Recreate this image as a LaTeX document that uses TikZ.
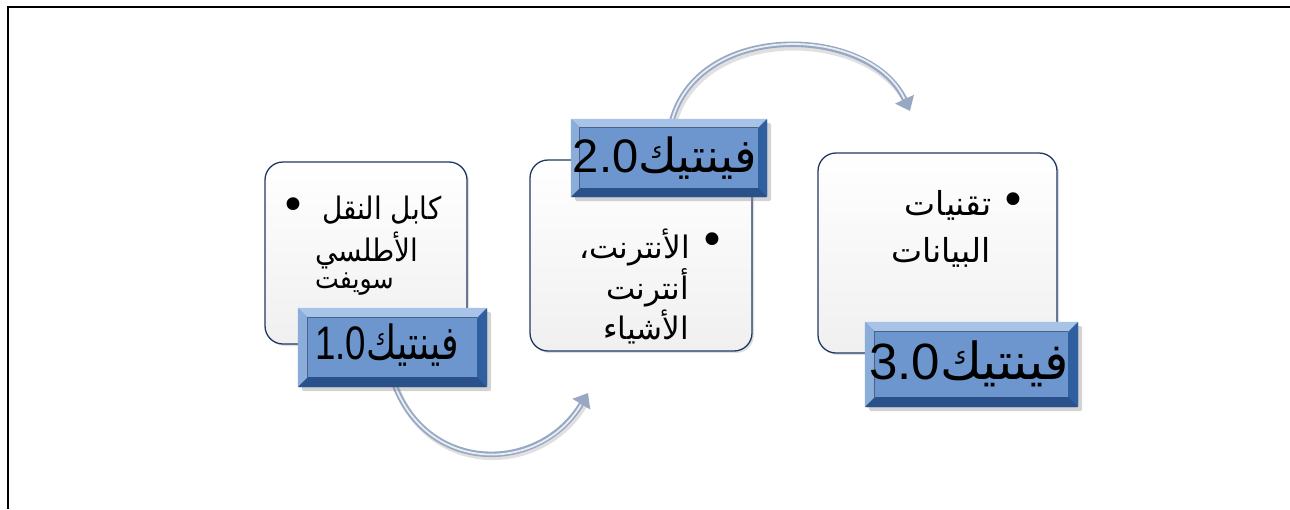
\documentclass[tikz,border=0pt]{standalone}
\usepackage{fontspec}
\usetikzlibrary{arrows.meta,shadows}
\TeXXeTstate=1
\newfontfamily\arabicfont[Script=Arabic]{DejaVu Sans}
\newfontfamily\latinfont{Liberation Sans}
\definecolor{boxline}{HTML}{1F3864}
\definecolor{facecol}{HTML}{6C96CD}
\definecolor{bvtop}{HTML}{A7C4E8}
\definecolor{bvleft}{HTML}{8AAED9}
\definecolor{bvright}{HTML}{2F5F9E}
\definecolor{bvbot}{HTML}{2A5189}
\definecolor{tubeout}{HTML}{98A8C2}
\definecolor{tubein}{HTML}{E8EEF6}
\newcommand\mybevel[2]{%
  \fill[bvtop] (#1.north west) -- (#1.north east) -- ([shift={(-#2,-#2)}]#1.north east) -- ([shift={(#2,-#2)}]#1.north west) -- cycle;
  \fill[bvleft] (#1.north west) -- ([shift={(#2,-#2)}]#1.north west) -- ([shift={(#2,#2)}]#1.south west) -- (#1.south west) -- cycle;
  \fill[bvright] (#1.north east) -- ([shift={(-#2,-#2)}]#1.north east) -- ([shift={(-#2,#2)}]#1.south east) -- (#1.south east) -- cycle;
  \fill[bvbot] (#1.south west) -- ([shift={(#2,#2)}]#1.south west) -- ([shift={(-#2,#2)}]#1.south east) -- (#1.south east) -- cycle;
  \fill[facecol] ([shift={(#2,-#2)}]#1.north west) rectangle ([shift={(-#2,#2)}]#1.south east);
  \draw[boxline!80,line width=0.8pt] ([shift={(#2,#2)}]#1.south west) -- ([shift={(#2,-#2)}]#1.north west) -- ([shift={(-#2,-#2)}]#1.north east);
}
\begin{document}
\begin{tikzpicture}[x=1pt,y=-1pt,
  infobox/.style={draw=boxline,line width=1.3pt,rounded corners=18pt,top color=white,bottom color=black!6,
    drop shadow={shadow xshift=2pt,shadow yshift=-2pt,opacity=0.25},inner sep=0pt},
  lab/.style={fill=bvright,inner sep=0pt,rounded corners=1.5pt,
    drop shadow={shadow xshift=4pt,shadow yshift=-4pt,opacity=0.35}},
  labtext/.style={inner sep=0pt,font=\arabicfont\fontsize{47}{50}\selectfont},
  boxtext/.style={inner sep=0pt,font=\arabicfont\fontsize{31}{36}\selectfont},
  bul/.style={inner sep=0pt,font=\arabicfont\fontsize{44}{44}\selectfont},
  tube/.style={line width=5.5pt,tubeout,-{Triangle[length=13pt,width=20pt]}},
  tubehi/.style={line width=1.8pt,tubein,line cap=round}
]
\useasboundingbox (0,0) rectangle (1290,509);
% frame
\draw[line width=2.2pt] (7,7) -- (1290,7);
\draw[line width=1.1pt] (8,6) -- (8,509);

% info boxes
\node[infobox,minimum width=202pt,minimum height=182pt] (b1) at (366,253) {};
\node[infobox,minimum width=222pt,minimum height=191pt] (b2) at (641,255.5) {};
\node[infobox,minimum width=239pt,minimum height=200pt] (b3) at (937.5,253) {};

% texts of box 1
\node[bul] (u1) at (293,209) {•};
\node[boxtext,anchor=west,xscale=0.9] (t11) at (322,210) {\beginR كابل النقل\endR};
\node[boxtext,anchor=west,xscale=0.9] (t12) at (315,250) {\beginR الأطلسي\endR};
\node[boxtext,anchor=west,xscale=0.9,font=\arabicfont\fontsize{28}{32}\selectfont] (t13) at (315,284) {\beginR سويفت\endR};
% texts of box 2
\node[bul] (u2) at (712,244) {•};
\node[boxtext,anchor=east] (t21) at (690,247) {\beginR الأنترنت،\endR};
\node[boxtext,anchor=east] (t22) at (689,288) {\beginR أنترنت\endR};
\node[boxtext,anchor=east] (t23) at (689,327) {\beginR الأشياء\endR};
% texts of box 3
\node[bul] (u3) at (1013,204) {•};
\node[boxtext,anchor=east,font=\arabicfont\fontsize{33}{38}\selectfont] (t31) at (992,205) {\beginR تقنيات\endR};
\node[boxtext,anchor=east,font=\arabicfont\fontsize{33}{38}\selectfont] (t32) at (991,252) {\beginR البيانات\endR};

% connector anchors
\coordinate (a1s) at (395,386);
\coordinate (a1e) at (588,393);
\coordinate (a2s) at (672,120);
\coordinate (a2e) at (910,111);

% arrows (drawn behind labels)
\draw[line width=6pt,black!12,shorten >=10pt] ([shift={(2pt,-3pt)}]a1s) .. controls (432,478) and (542,476) .. ([shift={(2pt,-3pt)}]a1e);
\draw[tube] (a1s) .. controls (430,475) and (540,473) .. (a1e);
\draw[tubehi,shorten >=14pt] (a1s) .. controls (430,475) and (540,473) .. (a1e);
\draw[line width=6pt,black!12,shorten >=10pt] ([shift={(2pt,-3pt)}]a2s) .. controls (702,23) and (872,28) .. ([shift={(2pt,-3pt)}]a2e);
\draw[tube] (a2s) .. controls (700,20) and (870,25) .. (a2e);
\draw[tubehi,shorten >=14pt] (a2s) .. controls (700,20) and (870,25) .. (a2e);

% labels
\node[lab,minimum width=189pt,minimum height=79pt] (l1) at (392.5,347.5) {};
\mybevel{l1}{10pt}
\node[labtext,xscale=0.78] (n1) at (387,345) {\beginR فينتيك\beginL{\latinfont 1.0}\endL\endR};

\node[lab,minimum width=196pt,minimum height=78pt] (l2) at (669,158) {};
\mybevel{l2}{9pt}
\node[labtext] (n2) at (665,158) {\beginR فينتيك\beginL{\latinfont 2.0}\endL\endR};

\node[lab,minimum width=213pt,minimum height=85pt] (l3) at (971.5,364.5) {};
\mybevel{l3}{10pt}
\node[labtext,font=\arabicfont\fontsize{51}{54}\selectfont] (n3) at (969,364) {\beginR فينتيك\beginL{\latinfont 3.0}\endL\endR};
\end{tikzpicture}
\end{document}
